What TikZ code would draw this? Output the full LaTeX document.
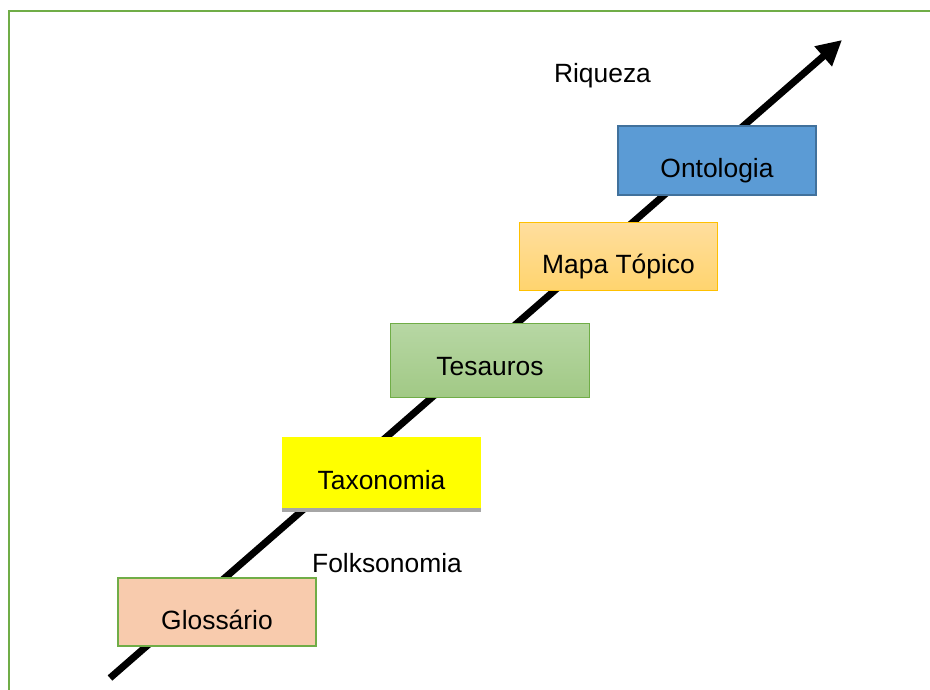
\documentclass[tikz,border=0pt]{standalone}
\usepackage{fontspec}
\setmainfont{Liberation Sans}
\usetikzlibrary{arrows.meta}
\definecolor{frameGreen}{HTML}{70AD47}
\definecolor{ontoFill}{HTML}{5B9BD5}
\definecolor{ontoLine}{HTML}{41719C}
\definecolor{mapTop}{HTML}{FFDE9E}
\definecolor{mapBot}{HTML}{FFD46E}
\definecolor{mapLine}{HTML}{FFC000}
\definecolor{tesTop}{HTML}{B7D7A4}
\definecolor{tesBot}{HTML}{A1C985}
\definecolor{glosFill}{HTML}{F8CBAD}
\definecolor{taxoFill}{HTML}{FFFF00}
\definecolor{shadowGray}{HTML}{A6A6A6}
\tikzset{
  levelbox/.style={rectangle, inner sep=0pt, minimum width=200pt, minimum height=71pt,
    font=\fontsize{26.4}{30}\selectfont, text height=35pt, text depth=2pt},
  freelabel/.style={inner sep=0pt, anchor=base, font=\fontsize{26.4}{30}\selectfont}
}
\begin{document}
\begin{tikzpicture}[x=1pt,y=-1pt]
  \useasboundingbox (0,0) rectangle (930,689);
  % outer frame (runs past the right and lower edges)
  \draw[frameGreen, line width=2.5pt] (940,11) -- (9,11) -- (9,700);
  % the rising axis
  \coordinate (start) at (110,678);
  \coordinate (tip) at (842,40);
  \draw[line width=7pt, -{Triangle[length=25pt,width=25pt]}] (start) -- (tip);
  % levels
  \node[levelbox, fill=glosFill, draw=frameGreen, line width=2.5pt,
        minimum width=198pt, minimum height=68pt, text height=37pt] (glos) at (217,612) {Glossário};
  \fill[shadowGray] (282,470) rectangle (481,512);
  \node[levelbox, fill=taxoFill, minimum width=199pt, minimum height=71pt] (taxo) at (381.5,472.5) {Taxonomia};
  \node[levelbox, top color=tesTop, bottom color=tesBot, draw=frameGreen, line width=1.3pt,
        minimum width=199pt, minimum height=74pt, text height=31pt] (tesa) at (490,360.5) {Tesauros};
  \node[levelbox, top color=mapTop, bottom color=mapBot, draw=mapLine, line width=1.3pt,
        minimum width=198pt, minimum height=68pt] (mapa) at (618.5,256.5) {Mapa Tópico};
  \node[levelbox, fill=ontoFill, draw=ontoLine, line width=2pt,
        minimum width=198pt, minimum height=69pt] (onto) at (717,160.5) {Ontologia};
  % free labels
  \node[freelabel] (riq) at (602.5,82) {Riqueza};
  \node[freelabel] (folk) at (387,572) {Folksonomia};
\end{tikzpicture}
\end{document}
